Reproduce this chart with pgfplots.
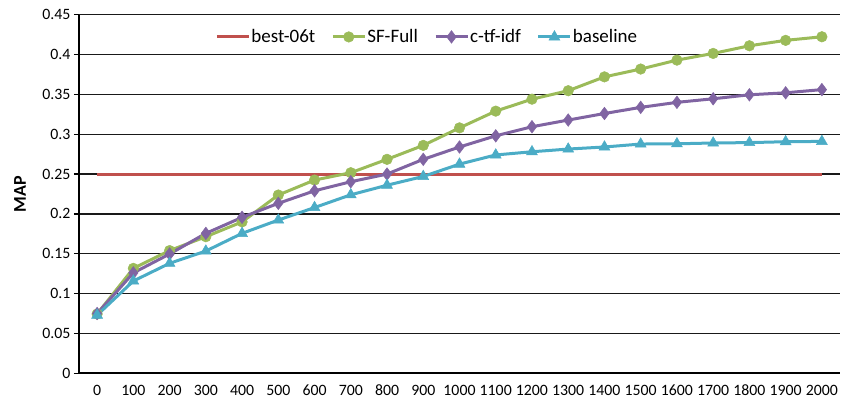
\documentclass[border=0pt]{standalone}
\usepackage{fontspec}
\setmainfont{Carlito}
\usepackage{pgfplots}
\pgfplotsset{compat=1.18}
\definecolor{cred}{RGB}{192,80,77}
\definecolor{cgreen}{RGB}{155,187,89}
\definecolor{cpurple}{RGB}{128,100,162}
\definecolor{ccyan}{RGB}{75,172,198}
\begin{document}
\begin{tikzpicture}
\begin{axis}[
  name=ax,
  scale only axis, width=761pt, height=358.6pt,
  xmin=-0.5, xmax=20.5, ymin=0, ymax=0.45,
  axis x line*=bottom, axis y line*=left,
  axis line style={line width=2.2pt, black},
  xtick={0,1,2,3,4,5,6,7,8,9,10,11,12,13,14,15,16,17,18,19,20},
  xticklabels={0,100,200,300,400,500,600,700,800,900,1000,1100,1200,1300,1400,1500,1600,1700,1800,1900,2000},
  ytick={0,0.05,0.1,0.15,0.2,0.25,0.3,0.35,0.4,0.45},
  yticklabel style={/pgf/number format/fixed, /pgf/number format/precision=2},
  xticklabel style={text height=11pt, text depth=0pt, anchor=north, yshift=-3pt},
  /pgf/number format/assume math mode=true,
  tick label style={font=\fontsize{15.8}{18}\selectfont, black},
  xtick style={draw=none},
  ytick style={line width=1.2pt, black},
  tick align=outside, major tick length=5pt,
  ymajorgrids, grid style={line width=1.3pt, black!90},
  ylabel={\textbf{MAP}},
  ylabel style={at={(axis description cs:-0.0775,0.5)}, anchor=center, font=\fontsize{18}{20}\selectfont},
  legend style={at={(rel axis cs:0.179,0.938)}, anchor=west, draw=none, fill=none, inner sep=0pt,
     legend columns=-1, font=\fontsize{19}{22}\selectfont,
     /tikz/every even column/.append style={column sep=15pt},
     nodes={inner sep=1pt}},
  legend image code/.code={\draw[mark repeat=2,mark phase=2] plot coordinates {(0pt,0pt)(16pt,0pt)(32pt,0pt)};},
  every axis plot/.append style={line width=3pt},
]
\addplot[cred, mark=none] coordinates {(0,0.25)(20,0.25)};
\addlegendentry{best-06t}
\addplot[cgreen, mark=*, mark size=5.3pt, mark options={solid, fill=cgreen, draw=cgreen, line width=0.5pt}] coordinates {
(0,0.0744)(1,0.1317)(2,0.154)(3,0.1714)(4,0.190)(5,0.2237)(6,0.2425)(7,0.2517)(8,0.2685)(9,0.286)
(10,0.308)(11,0.329)(12,0.344)(13,0.3546)(14,0.372)(15,0.3818)(16,0.393)(17,0.4014)(18,0.411)(19,0.4178)(20,0.4223)};
\addlegendentry{SF-Full}
\addplot[cpurple, mark=diamond*, mark size=6.3pt, mark options={solid, fill=cpurple, draw=cpurple, line width=0.5pt}] coordinates {
(0,0.075)(1,0.126)(2,0.1497)(3,0.1756)(4,0.1957)(5,0.2133)(6,0.229)(7,0.2404)(8,0.250)(9,0.2685)
(10,0.284)(11,0.298)(12,0.3094)(13,0.3178)(14,0.326)(15,0.3337)(16,0.340)(17,0.3445)(18,0.3495)(19,0.352)(20,0.356)};
\addlegendentry{c-tf-idf}
\addplot[ccyan, mark=triangle*, mark size=6.3pt, mark options={solid, fill=ccyan, draw=ccyan, line width=0.5pt}] coordinates {
(0,0.073)(1,0.1158)(2,0.138)(3,0.1534)(4,0.1756)(5,0.1923)(6,0.208)(7,0.224)(8,0.236)(9,0.247)
(10,0.2625)(11,0.274)(12,0.278)(13,0.2814)(14,0.284)(15,0.2877)(16,0.288)(17,0.289)(18,0.2895)(19,0.2906)(20,0.291)};
\addlegendentry{baseline}
\end{axis}
\pgfresetboundingbox
\path[use as bounding box] ([xshift=-79pt,yshift=-27.7pt]ax.south west) rectangle ([xshift=1pt,yshift=14.7pt]ax.north east);
\end{tikzpicture}
\end{document}
